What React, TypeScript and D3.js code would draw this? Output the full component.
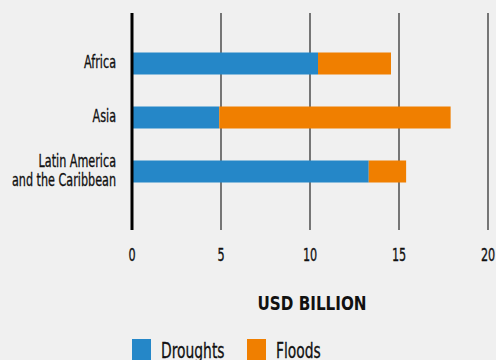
import React from "react";
import * as d3 from "d3";

const regions = ["Africa", "Asia", "Latin America|and the Caribbean"];
const droughts = [10.45, 4.9, 13.3];
const floods = [4.1, 13.0, 2.1];
const ticks = [0, 5, 10, 15, 20];
const seriesNames = ["Droughts", "Floods"];
const colors = ["#2587c8", "#f07f00"];

const W = 496, H = 360;
const FONT = "'DejaVu Sans', sans-serif";

function CText({ x, y, anchor = "start", size, sx, weight = "normal", children }: any) {
  return (
    <g transform={`translate(${x},${y}) scale(${sx},1)`}>
      <text x={0} y={0} dy="0.36em" textAnchor={anchor} fontSize={size} fontWeight={weight} fill="#111"
        stroke={weight === "bold" ? "none" : "#111"} strokeWidth={0.35}>
        {children}
      </text>
    </g>
  );
}

export default function App() {
  const x = d3.scaleLinear().domain([0, 20]).range([132, 488]);
  const y = d3.scalePoint<string>().domain(regions).range([63.5, 171.5]);
  const barH = 22;
  const gridTop = 13, gridBottom = 230;
  const stack = regions.map((r, i) => ({ r, d: droughts[i], f: floods[i] }));
  return (
    <div style={{ position: "fixed", left: 0, top: 0 }}>
      <svg width={W} height={H} style={{ display: "block", background: "#f0f0f0" }} fontFamily={FONT}>
        <rect x={0} y={0} width={W} height={H} fill="#f0f0f0" />
        {ticks.filter((t) => t !== 0).map((t) => (
          <line key={t} x1={x(t)} x2={x(t)} y1={gridTop} y2={gridBottom} stroke="#333" strokeWidth={1.3} />
        ))}
        {stack.map((s) => {
          const yc = y(s.r)!;
          return (
            <g key={s.r}>
              <rect x={x(0)} y={yc - barH / 2} width={x(s.d) - x(0)} height={barH} fill={colors[0]} />
              <rect x={x(s.d)} y={yc - barH / 2} width={x(s.d + s.f) - x(s.d)} height={barH} fill={colors[1]} />
            </g>
          );
        })}
        <line x1={x(0)} x2={x(0)} y1={gridTop} y2={gridBottom} stroke="#000" strokeWidth={3} />
        {regions.map((r) => {
          const lines = r.split("|");
          const yc = y(r)! - 1.5;
          const lh = 18.5;
          const start = yc - ((lines.length - 1) * lh) / 2;
          return (
            <g key={r}>
              {lines.map((l, j) => (
                <CText key={j} x={116} y={start + j * lh} anchor="end" size={17.5} sx={0.64}>{l}</CText>
              ))}
            </g>
          );
        })}
        {ticks.map((t) => (
          <CText key={t} x={x(t)} y={254.5} anchor="middle" size={17.5} sx={0.64}>{t}</CText>
        ))}
        <CText x={x(10) + 2} y={303.5} anchor="middle" size={19} sx={0.8} weight="bold">USD BILLION</CText>
        {seriesNames.map((n, i) => {
          const lx = 132 + i * 115;
          return (
            <g key={n}>
              <rect x={lx} y={339} width={19} height={21} fill={colors[i]} />
              <CText x={lx + 29} y={350.5} size={21} sx={0.66}>{n}</CText>
            </g>
          );
        })}
      </svg>
    </div>
  );
}
